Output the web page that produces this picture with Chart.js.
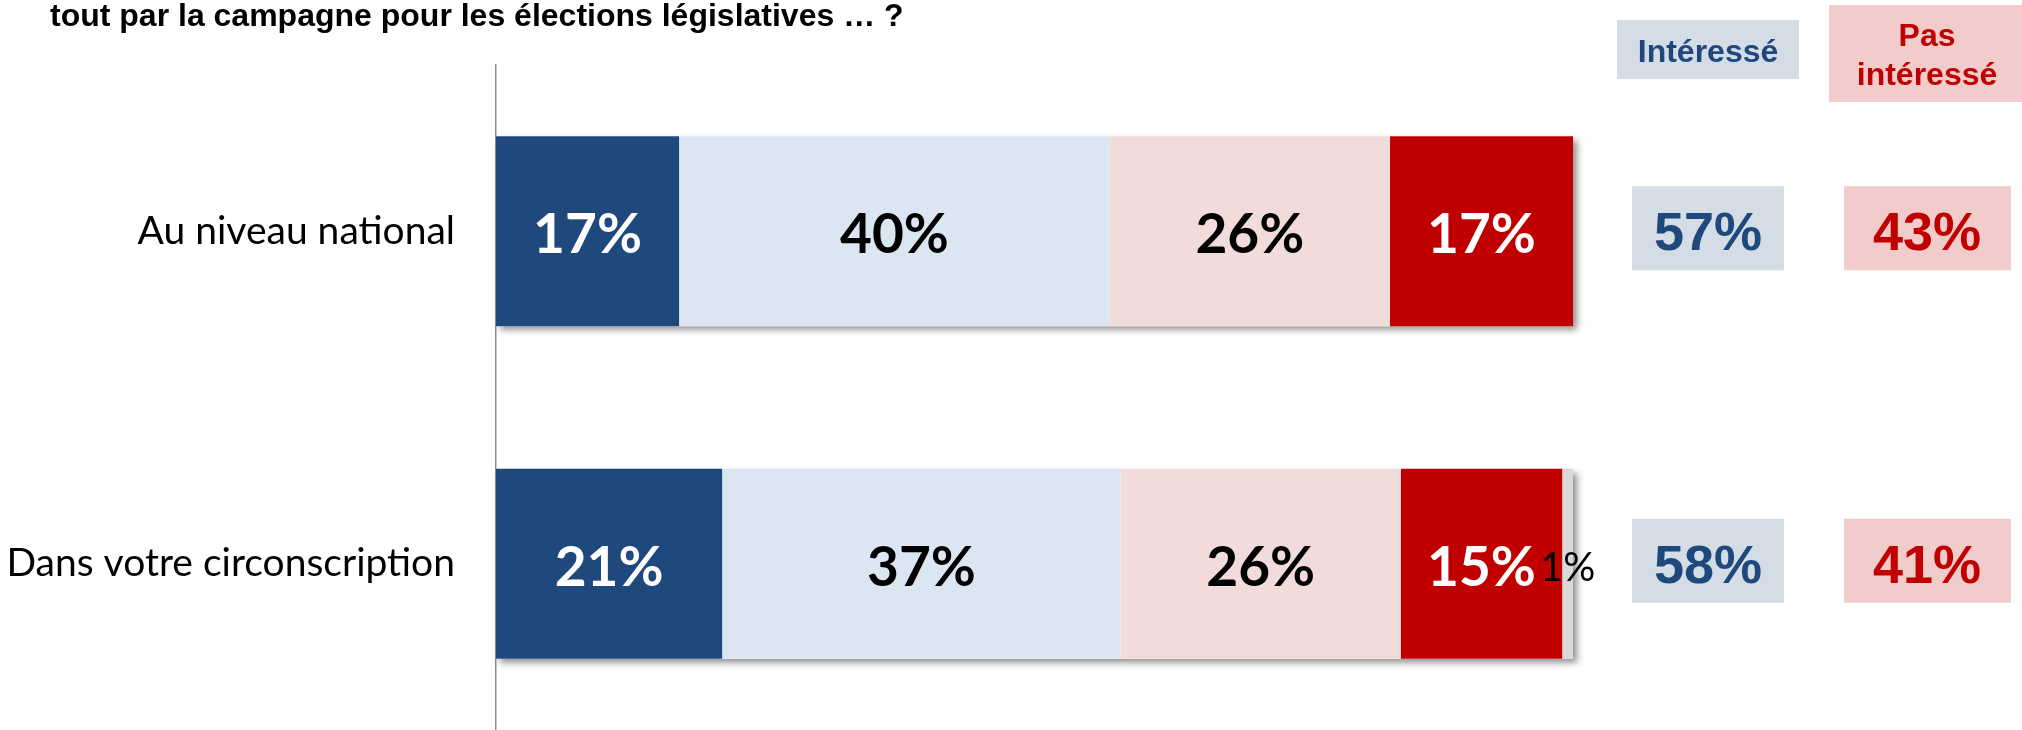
<!DOCTYPE html>
<html><head><meta charset="utf-8">
<script src="https://cdn.jsdelivr.net/npm/chart.js@4/dist/chart.umd.min.js"></script>
<style>html,body{margin:0;padding:0;background:#fff;} #wrap{width:2022px;height:730px;position:relative;}</style>
</head><body><div id="wrap"><canvas id="c" width="2022" height="730"></canvas></div>
<script>
// ---- data ----
const categories = ['Au niveau national', 'Dans votre circonscription'];
const seriesNames = ['Très intéressé', 'Assez intéressé', 'Peu intéressé', 'Pas du tout intéressé', 'Ne se prononce pas'];
const tresInteresse = [17, 21];
const assezInteresse = [40, 37];
const peuInteresse = [26, 26];
const pasDuToutInteresse = [17, 15];
const nePrononcePas = [0, 1];
const totalInteresse = [57, 58];
const totalPasInteresse = [43, 41];
const questionText = 'tout par la campagne pour les élections législatives … ?';
const headerInteresse = ['Intéressé'];
const headerPasInteresse = ['Pas', 'intéressé'];

// ---- styles ----
const segColors = ['#1F497D', '#DCE6F2', '#F2DCDB', '#C00000', '#D9D9D9'];
const labelColors = ['#FFFFFF', '#000000', '#000000', '#FFFFFF', '#000000'];
const labelFonts = ['bold 55px Lato', 'bold 55px Lato', 'bold 55px Lato', 'bold 55px Lato', '40px Lato'];
const seriesValues = [tresInteresse, assezInteresse, peuInteresse, pasDuToutInteresse, nePrononcePas];

const blueBox = '#D4DCE6', pinkBox = '#F2CBCB';
const blueText = '#1F497D', redText = '#C00000';

const shadowPlugin = {
  id: 'barShadow',
  beforeDatasetsDraw(chart) {
    const ctx = chart.ctx, xs = chart.scales.x;
    const meta0 = chart.getDatasetMeta(0);
    ctx.save();
    categories.forEach((c, i) => {
      const el = meta0.data[i];
      const total = seriesValues.reduce((s, arr) => s + arr[i], 0);
      const x0 = xs.getPixelForValue(0), x1 = xs.getPixelForValue(total);
      const h = el.height;
      ctx.shadowColor = 'rgba(0,0,0,0.45)';
      ctx.shadowBlur = 7;
      ctx.shadowOffsetX = 4;
      ctx.shadowOffsetY = 4;
      ctx.fillStyle = '#ffffff';
      ctx.fillRect(x0, el.y - h / 2, x1 - x0, h);
    });
    ctx.restore();
  }
};

const labelPlugin = {
  id: 'segLabels',
  afterDatasetsDraw(chart) {
    const ctx = chart.ctx;
    ctx.save();
    ctx.textAlign = 'center';
    ctx.textBaseline = 'alphabetic';
    seriesValues.forEach((arr, d) => {
      const meta = chart.getDatasetMeta(d);
      meta.data.forEach((el, i) => {
        const v = arr[i];
        if (!v) return;
        const cx = (el.x + el.base) / 2;
        ctx.font = labelFonts[d];
        ctx.fillStyle = labelColors[d];
        const off = d === 4 ? 17 : 22;
        ctx.fillText(v + '%', cx, el.y + off);
      });
    });
    ctx.restore();
  }
};

const extrasPlugin = {
  id: 'extras',
  afterDraw(chart) {
    const ctx = chart.ctx, ys = chart.scales.y;
    ctx.save();
    // question text
    ctx.fillStyle = '#000';
    ctx.font = 'bold 32px "Liberation Sans", Arial, sans-serif';
    ctx.textAlign = 'left';
    ctx.textBaseline = 'alphabetic';
    ctx.fillText(questionText, 50, 26);

    // header boxes
    ctx.fillStyle = blueBox;
    ctx.fillRect(1617, 20, 182, 59);
    ctx.fillStyle = pinkBox;
    ctx.fillRect(1829, 5, 193, 97);
    ctx.textAlign = 'center';
    ctx.font = 'bold 32px "Liberation Sans", Arial, sans-serif';
    ctx.fillStyle = blueText;
    ctx.fillText(headerInteresse[0], 1708, 62);
    ctx.fillStyle = redText;
    ctx.fillText(headerPasInteresse[0], 1927, 46);
    ctx.fillText(headerPasInteresse[1], 1927, 85);

    // totals boxes
    ctx.font = 'bold 54px "Liberation Sans", Arial, sans-serif';
    categories.forEach((c, i) => {
      const cy = ys.getPixelForValue(i);
      ctx.fillStyle = blueBox;
      ctx.fillRect(1632, cy - 45, 152, 84);
      ctx.fillStyle = pinkBox;
      ctx.fillRect(1844, cy - 45, 167, 84);
      ctx.fillStyle = blueText;
      ctx.fillText(totalInteresse[i] + '%', 1708, cy + 19);
      ctx.fillStyle = redText;
      ctx.fillText(totalPasInteresse[i] + '%', 1927, cy + 19);
    });
    ctx.restore();
  }
};

new Chart(document.getElementById('c'), {
  type: 'bar',
  data: {
    labels: categories,
    datasets: seriesNames.map((n, d) => ({
      label: n,
      data: seriesValues[d],
      backgroundColor: segColors[d],
      borderWidth: 0,
      barPercentage: 1,
      categoryPercentage: 0.572
    }))
  },
  options: {
    indexAxis: 'y',
    responsive: false,
    animation: false,
    devicePixelRatio: 1,
    layout: { padding: { top: 65, right: 449, bottom: 0, left: 0 } },
    plugins: { legend: { display: false }, tooltip: { enabled: false }, title: { display: false } },
    scales: {
      x: { stacked: true, min: 0, max: 100, display: false },
      y: {
        stacked: true,
        grid: { display: false, drawTicks: false },
        border: { display: true, color: '#8C8C8C', width: 1.5 },
        ticks: { color: '#000', font: { family: 'Lato', size: 39 }, padding: 41 },
        afterFit(s) { s.width = 496; s.paddingTop = 0; s.paddingBottom = 0; }
      }
    }
  },
  plugins: [shadowPlugin, labelPlugin, extrasPlugin]
});
</script>
</body></html>
